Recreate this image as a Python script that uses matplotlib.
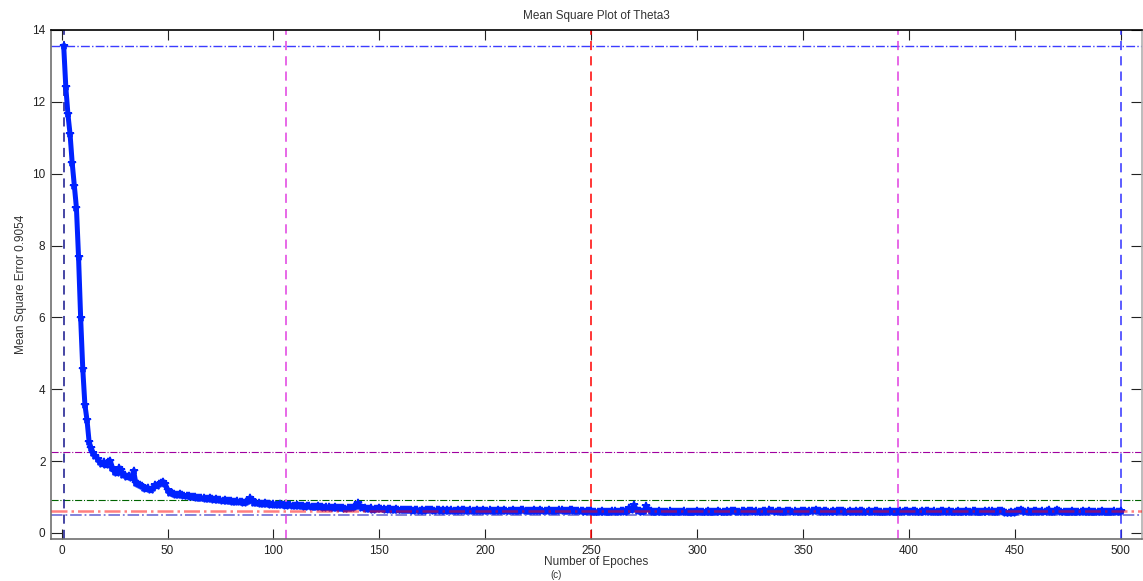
import numpy as np
import matplotlib
matplotlib.use("Agg")
import matplotlib.pyplot as plt

plt.rcParams['font.family'] = ['Liberation Sans', 'DejaVu Sans']

title = "Mean Square Plot of Theta3"
xlabel = "Number of Epoches"
ylabel = "Mean Square Error 0.9054"
xticks = [0, 50, 100, 150, 200, 250, 300, 350, 400, 450, 500]
yticks = [0, 2, 4, 6, 8, 10, 12, 14]

mse = [
    13.55, 12.40, 11.65, 11.10, 10.30, 9.67, 9.05, 7.68, 5.98, 4.56, 3.57, 3.14, 2.53, 2.35, 2.22, 2.15, 2.05, 1.98, 1.93, 1.97, 1.90, 1.96, 2.00, 1.82, 1.70,
    1.66, 1.80, 1.75, 1.62, 1.60, 1.56, 1.58, 1.52, 1.73, 1.40, 1.36, 1.33, 1.30, 1.26, 1.22, 1.24, 1.20, 1.25, 1.33, 1.30, 1.36, 1.38, 1.42, 1.35, 1.20,
    1.10, 1.12, 1.08, 1.06, 1.05, 1.08, 1.06, 1.04, 1.02, 1.03, 1.00, 0.99, 1.01, 0.98, 0.97, 0.96, 0.97, 0.95, 0.94, 0.96, 0.93, 0.92, 0.94, 0.92, 0.91,
    0.90, 0.92, 0.89, 0.88, 0.89, 0.87, 0.86, 0.88, 0.86, 0.85, 0.84, 0.86, 0.88, 0.97, 0.92, 0.84, 0.82, 0.83, 0.81, 0.80, 0.82, 0.81, 0.80, 0.79, 0.80,
    0.79, 0.78, 0.80, 0.77, 0.78, 0.76, 0.78, 0.77, 0.75, 0.76, 0.77, 0.74, 0.75, 0.76, 0.73, 0.74, 0.75, 0.72, 0.73, 0.72, 0.74, 0.71, 0.72, 0.70, 0.71,
    0.72, 0.70, 0.69, 0.71, 0.70, 0.68, 0.69, 0.70, 0.67, 0.68, 0.69, 0.70, 0.72, 0.76, 0.82, 0.74, 0.69, 0.68, 0.67, 0.66, 0.68, 0.65, 0.66, 0.67, 0.70,
    0.67, 0.66, 0.65, 0.67, 0.66, 0.64, 0.65, 0.66, 0.64, 0.63, 0.65, 0.64, 0.63, 0.65, 0.64, 0.62, 0.63, 0.64, 0.62, 0.63, 0.62, 0.64, 0.63, 0.65, 0.64,
    0.62, 0.63, 0.64, 0.62, 0.63, 0.61, 0.63, 0.62, 0.64, 0.62, 0.61, 0.63, 0.62, 0.64, 0.63, 0.61, 0.62, 0.63, 0.61, 0.62, 0.64, 0.62, 0.61, 0.63, 0.62,
    0.61, 0.63, 0.62, 0.60, 0.62, 0.63, 0.61, 0.62, 0.64, 0.62, 0.60, 0.61, 0.63, 0.62, 0.60, 0.61, 0.63, 0.64, 0.62, 0.61, 0.60, 0.62, 0.63, 0.61, 0.62,
    0.64, 0.62, 0.60, 0.61, 0.63, 0.62, 0.61, 0.60, 0.62, 0.64, 0.63, 0.61, 0.60, 0.62, 0.63, 0.65, 0.62, 0.60, 0.61, 0.62, 0.60, 0.59, 0.61, 0.62, 0.60,
    0.58, 0.57, 0.59, 0.58, 0.60, 0.59, 0.57, 0.58, 0.59, 0.61, 0.60, 0.58, 0.59, 0.61, 0.60, 0.59, 0.62, 0.69, 0.63, 0.77, 0.67, 0.61, 0.60, 0.59, 0.61,
    0.74, 0.66, 0.61, 0.59, 0.58, 0.59, 0.60, 0.58, 0.57, 0.59, 0.58, 0.60, 0.59, 0.57, 0.58, 0.59, 0.57, 0.58, 0.60, 0.59, 0.58, 0.57, 0.59, 0.58, 0.60,
    0.59, 0.57, 0.58, 0.59, 0.61, 0.58, 0.57, 0.59, 0.58, 0.60, 0.59, 0.57, 0.58, 0.60, 0.59, 0.61, 0.62, 0.60, 0.59, 0.58, 0.60, 0.61, 0.59, 0.60, 0.62,
    0.61, 0.59, 0.60, 0.58, 0.59, 0.61, 0.60, 0.59, 0.63, 0.61, 0.60, 0.59, 0.61, 0.60, 0.58, 0.59, 0.60, 0.62, 0.61, 0.59, 0.60, 0.58, 0.59, 0.61, 0.62,
    0.60, 0.59, 0.61, 0.60, 0.62, 0.64, 0.61, 0.60, 0.59, 0.61, 0.60, 0.59, 0.58, 0.60, 0.59, 0.61, 0.60, 0.62, 0.60, 0.59, 0.58, 0.60, 0.59, 0.58, 0.60,
    0.59, 0.61, 0.60, 0.58, 0.59, 0.60, 0.59, 0.58, 0.60, 0.61, 0.59, 0.58, 0.57, 0.59, 0.58, 0.60, 0.59, 0.58, 0.57, 0.59, 0.60, 0.59, 0.61, 0.60, 0.59,
    0.58, 0.60, 0.62, 0.59, 0.58, 0.60, 0.59, 0.61, 0.60, 0.58, 0.59, 0.60, 0.58, 0.59, 0.60, 0.61, 0.59, 0.58, 0.60, 0.59, 0.57, 0.58, 0.60, 0.59, 0.58,
    0.59, 0.60, 0.58, 0.59, 0.61, 0.60, 0.58, 0.57, 0.59, 0.58, 0.60, 0.59, 0.61, 0.60, 0.58, 0.59, 0.60, 0.62, 0.60, 0.57, 0.55, 0.56, 0.57, 0.56, 0.58,
    0.60, 0.62, 0.65, 0.61, 0.59, 0.60, 0.58, 0.59, 0.60, 0.62, 0.59, 0.58, 0.60, 0.59, 0.61, 0.63, 0.59, 0.58, 0.60, 0.63, 0.61, 0.59, 0.58, 0.57, 0.59,
    0.58, 0.60, 0.59, 0.58, 0.57, 0.59, 0.60, 0.59, 0.58, 0.60, 0.59, 0.57, 0.58, 0.59, 0.58, 0.60, 0.59, 0.58, 0.57, 0.59, 0.58, 0.60, 0.59, 0.58, 0.60,
]
epochs = np.arange(1, len(mse) + 1)

# reference lines
hlines_y = [13.55, 2.25, 0.9054, 0.60, 0.51]
vlines_x = [1, 106, 250, 395, 500]

fig = plt.figure(figsize=(11.43, 5.81), dpi=100)
ax = fig.add_axes([51/1143, 1 - 539/581, (1142 - 51)/1143, (539 - 30)/581])

ax.plot(epochs, mse, color='#0022ff', lw=3.6, marker='*', ms=6, mew=1.2, zorder=3)

# horizontal dash-dot lines
ax.axhline(hlines_y[0], color='#3c3cff', ls='-.', lw=1.0, zorder=2)
ax.axhline(hlines_y[1], color='#a000a0', ls='-.', lw=0.8, zorder=2)
ax.axhline(hlines_y[2], color='#006400', ls='-.', lw=0.8, zorder=2)
ax.axhline(hlines_y[3], color='#ff0000', ls='-.', lw=1.8, alpha=0.5, zorder=4)
ax.axhline(hlines_y[4], color='#2020c0', ls='-.', lw=1.3, alpha=0.6, zorder=2)

# vertical dashed lines
ax.axvline(vlines_x[0], color='#14148c', ls=(0, (6, 4)), lw=1.1, zorder=2)
ax.axvline(vlines_x[1], color='#e040e0', ls=(0, (6, 4)), lw=1.1, zorder=2)
ax.axvline(vlines_x[2], color='#ff0000', ls=(0, (6, 4)), lw=1.1, zorder=2)
ax.axvline(vlines_x[3], color='#e040e0', ls=(0, (6, 4)), lw=1.1, zorder=2)
ax.axvline(vlines_x[4], color='#3030ff', ls=(0, (6, 4)), lw=1.1, zorder=2)

ax.set_xlim(-5, 510)
ax.set_ylim(-0.17, 14)
ax.set_xticks(xticks)
ax.set_yticks(yticks)
ax.tick_params(direction='in', top=True, right=True, labelsize=8.5, colors='#222222')
ax.tick_params(axis='y', length=8, pad=4)
ax.tick_params(axis='x', length=7, pad=4)

for side, c in [('left', '#707070'), ('bottom', '#707070'), ('top', '#000000'), ('right', '#b0b0b0')]:
    ax.spines[side].set_color(c)
    ax.spines[side].set_linewidth(1.2)

ax.set_title(title, fontsize=8.5, color='#333333', pad=8)
ax.set_xlabel(xlabel, fontsize=8.5, color='#333333')
ax.xaxis.set_label_coords(0.5, -0.034)
ax.set_ylabel(ylabel, fontsize=8.5, color='#333333')
ax.yaxis.set_label_coords(-0.022, 0.5)

fig.text(556/1143, 0.5/581, '(c)', fontsize=7, ha='center', va='bottom', color='#333333')

fig.savefig('out.png', dpi=100)
